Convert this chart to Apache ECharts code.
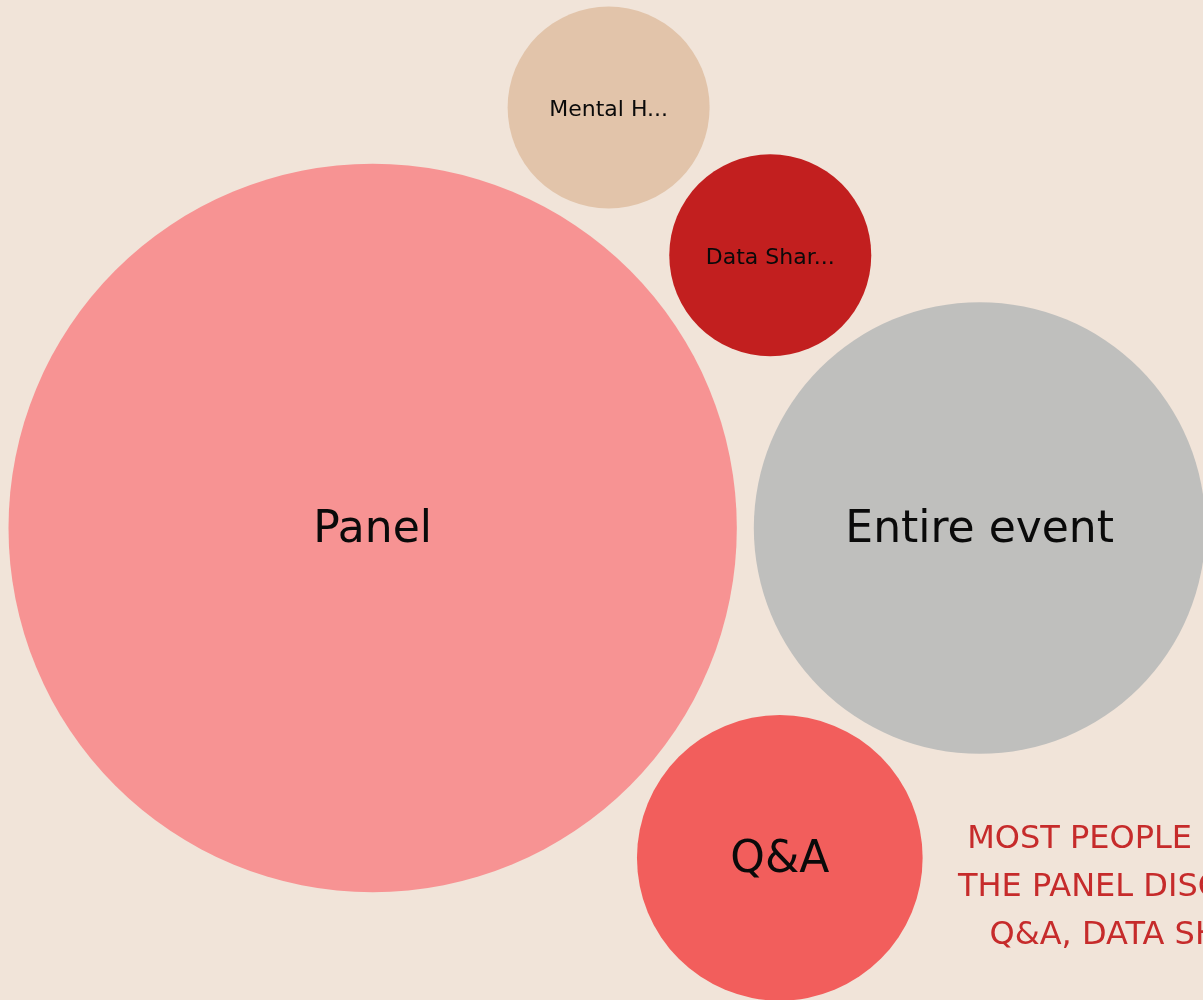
<!DOCTYPE html>
<html>
<head>
<meta charset="utf-8">
<style>
html,body{margin:0;padding:0;background:#F1E4D9;}
#chart{width:1203px;height:1000px;}
</style>
<script src="https://cdn.jsdelivr.net/npm/echarts@6/dist/echarts.min.js"></script>
</head>
<body>
<div id="chart"></div>
<script>
// ---- data ----
const categories = ['Panel', 'Entire event', 'Q&A', 'Data Sharing', 'Mental Health'];
const values = [13, 5, 2, 1, 1];
const colors = ['#F79393', '#BFBFBD', '#F25E5C', '#C21F1F', '#E2C4AA'];
const annotationLines = ['MOST PEOPLE ENJOYED', 'THE PANEL DISCUSSION,', 'Q&A, DATA SHARING'];

// ---- size scale & packing (d3.packSiblings algorithm) ----
const PX_PER_SQRT = 101;   // bubble radius = PX_PER_SQRT * sqrt(value)
const GAP = 17;            // spacing between bubbles
const FONT = '"DejaVu Sans", sans-serif';

function radiusOf(v) { return PX_PER_SQRT * Math.sqrt(v); }

function place(b, a, c) {
  var dx = b.x - a.x, x, a2, dy = b.y - a.y, y, b2, d2 = dx * dx + dy * dy;
  if (d2) {
    a2 = a.r + c.r; a2 *= a2;
    b2 = b.r + c.r; b2 *= b2;
    if (a2 > b2) {
      x = (d2 + b2 - a2) / (2 * d2);
      y = Math.sqrt(Math.max(0, b2 / d2 - x * x));
      c.x = b.x - x * dx - y * dy;
      c.y = b.y - x * dy + y * dx;
    } else {
      x = (d2 + a2 - b2) / (2 * d2);
      y = Math.sqrt(Math.max(0, a2 / d2 - x * x));
      c.x = a.x + x * dx - y * dy;
      c.y = a.y + x * dy + y * dx;
    }
  } else {
    c.x = a.x + c.r; c.y = a.y;
  }
}
function intersects(a, b) {
  var dr = a.r + b.r - 1e-6, dx = b.x - a.x, dy = b.y - a.y;
  return dr > 0 && dr * dr > dx * dx + dy * dy;
}
function score(node) {
  var a = node._, b = node.next._, ab = a.r + b.r,
      dx = (a.x * b.r + b.x * a.r) / ab, dy = (a.y * b.r + b.y * a.r) / ab;
  return dx * dx + dy * dy;
}
function PNode(circle) { this._ = circle; this.next = null; this.previous = null; }
function packSiblings(circles) {
  var n = circles.length, a, b, c, i, j, k, sj, sk, aa, ca;
  if (!n) return;
  a = circles[0]; a.x = 0; a.y = 0;
  if (n < 2) return;
  b = circles[1]; a.x = -b.r; b.x = a.r; b.y = 0;
  if (n < 3) return;
  place(b, a, c = circles[2]);
  a = new PNode(a); b = new PNode(b); c = new PNode(c);
  a.next = c.previous = b; b.next = a.previous = c; c.next = b.previous = a;
  pack: for (i = 3; i < n; ++i) {
    place(a._, b._, c = circles[i]); c = new PNode(c);
    j = b.next; k = a.previous; sj = b._.r; sk = a._.r;
    do {
      if (sj <= sk) {
        if (intersects(j._, c._)) { b = j; a.next = b; b.previous = a; --i; continue pack; }
        sj += j._.r; j = j.next;
      } else {
        if (intersects(k._, c._)) { a = k; a.next = b; b.previous = a; --i; continue pack; }
        sk += k._.r; k = k.previous;
      }
    } while (j !== k.next);
    c.previous = a; c.next = b; a.next = b.previous = b = c;
    aa = score(a);
    while ((c = c.next) !== b) { if ((ca = score(c)) < aa) { a = c; aa = ca; } }
    b = a.next;
  }
}

const circles = values.map(function (v) { return { r: radiusOf(v) + GAP / 2 }; });
packSiblings(circles);

const seriesData = categories.map(function (name, i) {
  const r = radiusOf(values[i]);
  const big = r > 120;
  return {
    name: name,
    value: [circles[i].x, circles[i].y, values[i]],
    itemStyle: { color: colors[i] },
    label: { fontSize: big ? 44 : 22, width: Math.round(r * 1.31), offset: [0, big ? 3 : 3] }
  };
});

const chart = echarts.init(document.getElementById('chart'), null, { renderer: 'canvas' });
chart.setOption({
  backgroundColor: '#F1E4D9',
  animation: false,
  textStyle: { fontFamily: FONT },
  grid: { left: 0, right: 0, top: 0, bottom: 0 },
  xAxis: { type: 'value', min: -607, max: 596, show: false },
  yAxis: { type: 'value', inverse: true, min: -528, max: 472, show: false },
  series: [{
    type: 'scatter',
    clip: false,
    silent: true,
    emphasis: { disabled: true },
    symbol: 'circle',
    symbolSize: function (val) { return 2 * radiusOf(val[2]); },
    itemStyle: { opacity: 1 },
    label: {
      show: true,
      position: 'inside',
      formatter: '{b}',
      color: '#0a0a0a',
      fontFamily: FONT,
      overflow: 'truncate',
      ellipsis: '...'
    },
    data: seriesData
  }],
  graphic: [{
    type: 'text',
    left: 1158 - 200,
    top: 816,
    silent: true,
    style: {
      text: annotationLines.join('\n'),
      x: 200,
      textAlign: 'center',
      fill: '#C62B2B',
      font: '32px ' + FONT,
      lineHeight: 48
    }
  }]
});
</script>
</body>
</html>
